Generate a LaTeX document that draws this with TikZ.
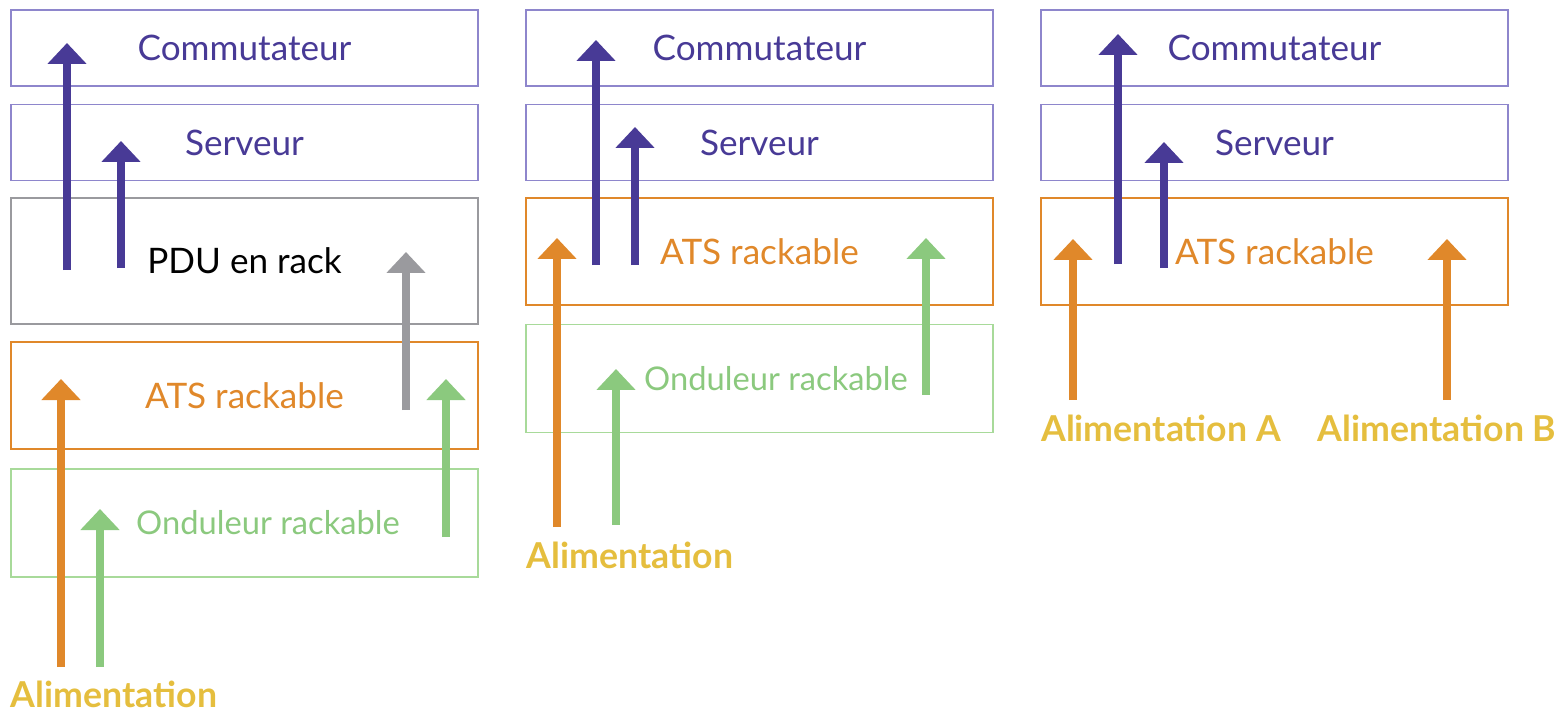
\documentclass[tikz,border=0pt]{standalone}
\usepackage{fontspec}
\setmainfont{Lato}
\usepackage{tikz}
\usetikzlibrary{arrows.meta}
\usetikzlibrary{positioning}

\definecolor{violet}{HTML}{483A96}
\definecolor{violetbox}{HTML}{8E86CC}
\definecolor{orangeats}{HTML}{E0882A}
\definecolor{vertups}{HTML}{8BC97E}
\definecolor{vertbox}{HTML}{A8DA9A}
\definecolor{grispdu}{HTML}{9A9A9E}
\definecolor{jaune}{HTML}{E5BE3E}

\tikzset{
  unit/.style={draw,line width=1.1pt,inner sep=0pt,minimum width=9.34cm,font=\fontsize{20}{24}\selectfont},
  switch/.style={unit,draw=violetbox,text=violet,minimum height=1.52cm},
  pdu/.style={unit,draw=grispdu,text=black,minimum height=2.52cm},
  ats/.style={unit,draw=orangeats,text=orangeats,minimum height=2.14cm},
  ups/.style={unit,draw=vertbox,minimum height=2.16cm},
  upslabel/.style={text=vertups,inner sep=0pt,font=\fontsize{18.6}{22}\selectfont},
  feed/.style={line width=4.5pt,-{Triangle[width=0.76cm,length=0.42cm]}},
  source/.style={text=jaune,inner sep=0pt,font=\fontsize{20.3}{24}\selectfont\bfseries}
}

\begin{document}
\begin{tikzpicture}[x=0.02cm,y=-0.02cm]
    \useasboundingbox (0,0) rectangle (1561,713);
    % rack 1
    \node[switch] (c1) at (244.5,48) {Commutateur};
    \node[switch] (s1) at (244.5,142.5) {Serveur};
    \node[pdu] (p1) at (244.5,261) {PDU en rack};
    \node[ats] (a1) at (244.5,395.5) {ATS rackable};
    \node[ups] (u1) at (244.5,523) {};
    \node[upslabel] (u1t) at (268,523) {Onduleur rackable};
    \node[source] (f1) at (114,694) {Alimentation};
    % rack 2
    \node[switch] (c2) at (759.5,48) {Commutateur};
    \node[switch] (s2) at (759.5,142.5) {Serveur};
    \node[ats] (a2) at (759.5,251.5) {ATS rackable};
    \node[ups] (u2) at (759.5,378.5) {};
    \node[upslabel] (u2t) at (776,379) {Onduleur rackable};
    \node[source] (f2) at (630,555) {Alimentation};
    % rack 3
    \node[switch] (c3) at (1274.5,48) {Commutateur};
    \node[switch] (s3) at (1274.5,142.5) {Serveur};
    \node[ats] (a3) at (1274.5,251.5) {ATS rackable};
    \node[source] (f3a) at (1161,428) {Alimentation A};
    \node[source] (f3b) at (1437,428) {Alimentation B};

    % arrow ends
    \coordinate (p1c) at (67,270);   \coordinate (c1in) at (67,43);
    \coordinate (p1s) at (121,268);  \coordinate (s1in) at (121,141);
    \coordinate (a1p) at (406,410);  \coordinate (p1in) at (406,252);
    \coordinate (f1a) at (61,667);   \coordinate (a1in) at (61,379);
    \coordinate (f1u) at (100,667);  \coordinate (u1in) at (100,509);
    \coordinate (u1a) at (446,537);  \coordinate (a1in2) at (446,379);
    \coordinate (a2c) at (596,265);  \coordinate (c2in) at (596,40);
    \coordinate (a2s) at (635,265);  \coordinate (s2in) at (635,127);
    \coordinate (f2a) at (557,527);  \coordinate (a2in) at (557,238);
    \coordinate (f2u) at (616,525);  \coordinate (u2in) at (616,369);
    \coordinate (u2a) at (926,395);  \coordinate (a2in2) at (926,238);
    \coordinate (a3c) at (1118,264); \coordinate (c3in) at (1118,34);
    \coordinate (a3s) at (1164,268); \coordinate (s3in) at (1164,142);
    \coordinate (f3aa) at (1073,400); \coordinate (a3in) at (1073,239);
    \coordinate (f3ba) at (1447,400); \coordinate (a3in2) at (1447,239);

    \draw[feed,violet] (p1c) -- (c1in);
    \draw[feed,violet] (p1s) -- (s1in);
    \draw[feed,grispdu] (a1p) -- (p1in);
    \draw[feed,orangeats] (f1a) -- (a1in);
    \draw[feed,vertups] (f1u) -- (u1in);
    \draw[feed,vertups] (u1a) -- (a1in2);

    \draw[feed,violet] (a2c) -- (c2in);
    \draw[feed,violet] (a2s) -- (s2in);
    \draw[feed,orangeats] (f2a) -- (a2in);
    \draw[feed,vertups] (f2u) -- (u2in);
    \draw[feed,vertups] (u2a) -- (a2in2);

    \draw[feed,violet] (a3c) -- (c3in);
    \draw[feed,violet] (a3s) -- (s3in);
    \draw[feed,orangeats] (f3aa) -- (a3in);
    \draw[feed,orangeats] (f3ba) -- (a3in2);
\end{tikzpicture}
\end{document}
